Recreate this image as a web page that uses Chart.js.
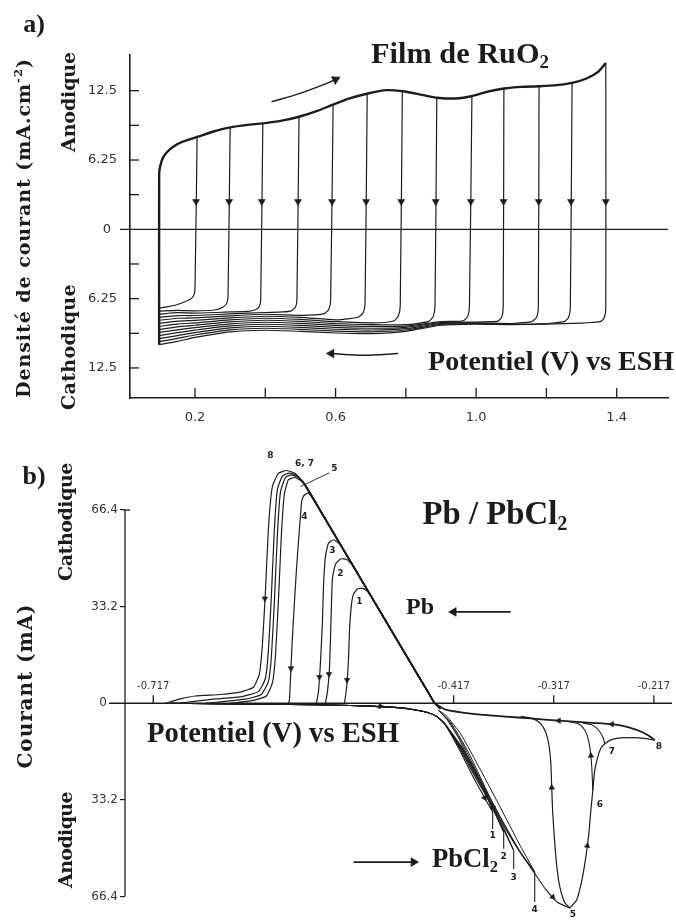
<!DOCTYPE html>
<html>
<head>
<meta charset="utf-8">
<script src="https://cdn.jsdelivr.net/npm/chart.js@4.4.0/dist/chart.umd.min.js"></script>
<style>
html, body { margin: 0; padding: 0; background: #fff; }
#wrap { position: relative; width: 676px; height: 920px; overflow: hidden; }
canvas { position: absolute; left: 0; }
#chart-a { top: 0; }
#chart-b { top: 430px; }
</style>
</head>
<body>
<div id="wrap">
  <canvas id="chart-a" width="676" height="430"></canvas>
  <canvas id="chart-b" width="676" height="490"></canvas>
</div>
<script>
/************************************************************/
/*        a) RuO2 film  -  b) Pb / PbCl2 voltammograms      */
/************************************************************/

const INK = '#1c1c1c';
const SERIF_T = '"Liberation Serif", "Times New Roman", serif';
const SERIF_W = '"DejaVu Serif", serif';
const TICK_FONT = '"DejaVu Sans", sans-serif';

/* ---------- panel a : data (V vs ESH, mA.cm-2) ---------- */
const xTicksA = [0.2, 0.4, 0.6, 0.8, 1.0, 1.2, 1.4];
const xLabelsA = [0.2, 0.6, 1.0, 1.4];
const yTicksA = [-12.5, -9.375, -6.25, -3.125, 3.125, 6.25, 9.375, 12.5];
const yLabelsA = [-12.5, -6.25, 6.25, 12.5];

// anodic sweep (outer envelope), starting at the bottom of the 0.1 V edge
const anodicSweepA = [
    [0.098, -10.4], [0.098, 5.0], [0.101, 5.7], [0.108, 6.4], [0.12, 6.95], [0.138, 7.45],
    [0.165, 7.9], [0.208, 8.35], [0.25, 8.8], [0.30, 9.2], [0.35, 9.42], [0.393, 9.55],
    [0.447, 9.8], [0.496, 10.15], [0.55, 10.7], [0.593, 11.25], [0.64, 11.8], [0.692, 12.25],
    [0.745, 12.55], [0.792, 12.45], [0.85, 12.1], [0.888, 11.87], [0.944, 11.8], [0.987, 12.0],
    [1.03, 12.4], [1.079, 12.7], [1.13, 12.85], [1.18, 12.9], [1.23, 13.0], [1.273, 13.2],
    [1.314, 13.6], [1.347, 14.2], [1.369, 15.0]
];

// reversal potentials (where the down arrows sit)
const reversalA = [0.203, 0.297, 0.39, 0.493, 0.59, 0.687, 0.787, 0.885, 0.985, 1.078, 1.178, 1.27, 1.369];
const reversalArrowLevelA = [2.5, 2.5, 2.5, 2.5, 2.5, 2.5, 2.5, 2.5, 2.5, 2.5, 2.5, 2.5, 2.5];

// cathodic return of each cycle: drop from the envelope, then back to 0.1 V
const cathodicBranchesA = [
    [[0.206, 8.35], [0.200, -5.3], [0.197, -5.9], [0.189, -6.25], [0.17, -6.55], [0.148, -6.8], [0.12, -7.0], [0.098, -7.1]],
    [[0.300, 9.2], [0.294, -6.0], [0.290, -6.7], [0.280, -7.0], [0.26, -7.25], [0.2, -7.35], [0.15, -7.3], [0.098, -7.38]],
    [[0.393, 9.55], [0.387, -6.3], [0.383, -6.95], [0.372, -7.25], [0.35, -7.4], [0.3, -7.45], [0.2, -7.55], [0.15, -7.52], [0.098, -7.65]],
    [[0.496, 10.15], [0.490, -6.3], [0.486, -7.0], [0.474, -7.35], [0.45, -7.45], [0.4, -7.5], [0.3, -7.63], [0.2, -7.77], [0.15, -7.78], [0.098, -7.93]],
    [[0.593, 11.25], [0.586, -6.4], [0.581, -7.2], [0.568, -7.6], [0.54, -7.72], [0.5, -7.76], [0.4, -7.66], [0.3, -7.81], [0.2, -7.99], [0.15, -8.02], [0.098, -8.2]],
    [[0.690, 12.25], [0.684, -6.6], [0.679, -7.5], [0.665, -7.9], [0.64, -8.05], [0.6, -8.16], [0.5, -7.94], [0.4, -7.84], [0.3, -7.99], [0.2, -8.21], [0.15, -8.28], [0.098, -8.48]],
    [[0.790, 12.45], [0.784, -6.9], [0.779, -7.8], [0.766, -8.25], [0.74, -8.4], [0.7, -8.44], [0.6, -8.33], [0.5, -8.12], [0.4, -8.02], [0.3, -8.17], [0.2, -8.43], [0.15, -8.54], [0.098, -8.75]],
    [[0.888, 11.87], [0.883, -6.9], [0.878, -7.85], [0.865, -8.3], [0.84, -8.45], [0.8, -8.6], [0.7, -8.6], [0.6, -8.5], [0.5, -8.3], [0.4, -8.2], [0.3, -8.35], [0.2, -8.65], [0.15, -8.8], [0.098, -9.03]],
    [[0.988, 12.0], [0.981, -6.9], [0.976, -7.85], [0.963, -8.25], [0.94, -8.3], [0.9, -8.33], [0.8, -8.72], [0.7, -8.76], [0.6, -8.67], [0.5, -8.48], [0.4, -8.38], [0.3, -8.53], [0.2, -8.87], [0.15, -9.06], [0.098, -9.3]],
    [[1.079, 12.7], [1.077, -7.0], [1.073, -7.9], [1.062, -8.28], [1.04, -8.33], [1.0, -8.37], [0.9, -8.41], [0.8, -8.84], [0.7, -8.92], [0.6, -8.84], [0.5, -8.66], [0.4, -8.56], [0.3, -8.71], [0.2, -9.09], [0.15, -9.32], [0.098, -9.58]],
    [[1.179, 12.9], [1.177, -7.1], [1.172, -7.95], [1.158, -8.32], [1.13, -8.42], [1.1, -8.5], [1.0, -8.43], [0.9, -8.49], [0.8, -8.96], [0.7, -9.08], [0.6, -9.01], [0.5, -8.84], [0.4, -8.74], [0.3, -8.89], [0.2, -9.31], [0.15, -9.58], [0.098, -9.85]],
    [[1.273, 13.2], [1.268, -7.1], [1.263, -7.95], [1.252, -8.3], [1.23, -8.4], [1.2, -8.5], [1.1, -8.55], [1.0, -8.49], [0.9, -8.57], [0.8, -9.08], [0.7, -9.24], [0.6, -9.18], [0.5, -9.02], [0.4, -8.92], [0.3, -9.07], [0.2, -9.53], [0.15, -9.84], [0.098, -10.13]],
    [[1.369, 15.0], [1.369, -7.1], [1.365, -7.95], [1.355, -8.3], [1.33, -8.4], [1.3, -8.45], [1.2, -8.55], [1.1, -8.6], [1.0, -8.55], [0.9, -8.65], [0.8, -9.2], [0.7, -9.4], [0.6, -9.35], [0.5, -9.2], [0.4, -9.1], [0.3, -9.25], [0.2, -9.75], [0.15, -10.1], [0.098, -10.4]]
];

// sweep direction arrows drawn in the plot
const scanArrowA = [[0.418, 11.5], [0.499, 12.26], [0.575, 13.16], [0.600, 13.52]];
const returnArrowA = [[0.778, -11.2], [0.68, -11.35], [0.588, -11.2]];

/* ---------- panel b : data (V vs ESH, mA) ---------- */
const xTicksB = [-0.717, -0.417, -0.317, -0.217];
const yLabelsB = [-66.4, -33.2, 33.2, 66.4];

// shared start of every cathodic scan: the ohmic ramp
const rampB = [[-0.436, 0], [-0.47, 19.7], [-0.50, 37.1]];
const cathodicPeaksB = [
    [[-0.503, 38.5], [-0.508, 39.5], [-0.513, 39.3], [-0.517, 37.5], [-0.519, 34], [-0.521, 25], [-0.522, 15], [-0.524, 5], [-0.526, 0]],
    [[-0.518, 47.5], [-0.524, 49.5], [-0.530, 49.6], [-0.535, 47.8], [-0.538, 43], [-0.539, 34], [-0.540, 22], [-0.541, 12], [-0.543, 4], [-0.545, 0]],
    [[-0.524, 51.0], [-0.531, 54.8], [-0.537, 56.2], [-0.542, 55], [-0.545, 50.5], [-0.547, 40], [-0.548, 28], [-0.550, 14], [-0.552, 4], [-0.554, 0]],
    [[-0.540, 60.3], [-0.552, 67.3], [-0.558, 71], [-0.563, 72.2], [-0.567, 71.2], [-0.569, 68.7], [-0.574, 45.8], [-0.578, 22.8], [-0.580, 8], [-0.581, 1], [-0.582, 0]],
    [[-0.540, 60.3], [-0.563, 73.7], [-0.570, 76.6], [-0.576, 77.6], [-0.582, 76.8], [-0.586, 72], [-0.589, 58], [-0.592, 35], [-0.595, 16], [-0.598, 7], [-0.604, 2.5], [-0.618, 0.9], [-0.64, 0]],
    [[-0.540, 60.3], [-0.565, 74.8], [-0.572, 77.6], [-0.579, 78.5], [-0.585, 77.6], [-0.590, 72.5], [-0.593, 58], [-0.596, 35], [-0.599, 16], [-0.602, 7.5], [-0.609, 3], [-0.625, 1.4], [-0.65, 0.5], [-0.665, 0]],
    [[-0.540, 60.3], [-0.566, 75.4], [-0.574, 78.3], [-0.581, 79.1], [-0.588, 78.1], [-0.593, 73.5], [-0.596, 60], [-0.599, 37], [-0.602, 18], [-0.605, 8.5], [-0.612, 4], [-0.63, 2.2], [-0.655, 1.5], [-0.68, 0.5], [-0.69, 0]],
    [[-0.540, 60.3], [-0.567, 76], [-0.576, 79.1], [-0.584, 80.0], [-0.592, 79.0], [-0.598, 74.5], [-0.602, 60], [-0.605, 38], [-0.608, 20], [-0.611, 10], [-0.617, 5.5], [-0.63, 3.8], [-0.65, 3.0], [-0.675, 2.5], [-0.69, 1.5], [-0.70, 0.5], [-0.705, 0]]
];

// anodic scans: along the axis from the left, then down the ramp to each reversal
const anodicStartB = [[-0.70, 0], [-0.62, -0.3], [-0.54, -0.6], [-0.50, -1.0], [-0.47, -1.6], [-0.455, -2.3], [-0.443, -3.2], [-0.434, -4.5], [-0.426, -7]];
const anodicLegsB = [
    [[-0.412, -15.5], [-0.398, -25], [-0.386, -32.5], [-0.378, -37.4]],
    [[-0.411, -15.5], [-0.396, -25], [-0.381, -34], [-0.367, -44.3]],
    [[-0.410, -15.5], [-0.394, -25.5], [-0.376, -37], [-0.357, -50.6]],
    [[-0.409, -15.5], [-0.392, -26], [-0.372, -39], [-0.352, -50.5], [-0.336, -58]],
    [[-0.408, -15.5], [-0.390, -26.5], [-0.369, -40], [-0.349, -52], [-0.336, -58.5], [-0.325, -64], [-0.313, -68.5], [-0.301, -70.4]]
];
// returns of cycles 1-4 back to the crossing point
const rampReturnsB = [
    [[-0.378, -37.4], [-0.385, -31], [-0.398, -22], [-0.412, -12], [-0.424, -5.5], [-0.432, -2.5]],
    [[-0.367, -44.3], [-0.378, -35.5], [-0.392, -25], [-0.408, -14], [-0.422, -6], [-0.432, -2.5]],
    [[-0.357, -50.6], [-0.368, -42], [-0.384, -30], [-0.402, -17], [-0.42, -6.5], [-0.432, -2.5]],
    [[-0.336, -58], [-0.352, -48], [-0.370, -36], [-0.39, -23], [-0.41, -10.5], [-0.425, -4], [-0.432, -2.5]]
];
// anodic peak: cycle 5 return (left side) and passivation branch to 6, 7, 8
const cycle5ReturnB = [[-0.301, -70.4], [-0.306, -68.5], [-0.311, -63], [-0.314, -56], [-0.316, -48], [-0.318, -38], [-0.319, -29], [-0.320, -20], [-0.322, -14], [-0.325, -10], [-0.330, -7], [-0.338, -5.3], [-0.350, -4.5]];
const passivationB = [[-0.301, -70.4], [-0.294, -67.5], [-0.289, -61], [-0.285, -53], [-0.282, -45], [-0.280, -37], [-0.278, -30], [-0.276, -23], [-0.273, -18.5], [-0.270, -15.5], [-0.266, -13.9], [-0.260, -12.6], [-0.250, -11.9], [-0.238, -11.8], [-0.226, -12.1], [-0.216, -12.7]];
const cycle6ReturnB = [[-0.278, -30], [-0.279, -22], [-0.281, -15], [-0.284, -10.6], [-0.288, -8.3], [-0.293, -7.0], [-0.302, -6.3]];
const cycle7ReturnB = [[-0.266, -13.9], [-0.268, -11.6], [-0.271, -9.8], [-0.275, -8.3], [-0.280, -7.3], [-0.288, -6.8]];
const cycle8ReturnB = [[-0.216, -12.7], [-0.222, -11.2], [-0.229, -9.9], [-0.238, -8.7], [-0.248, -7.8], [-0.259, -7.2], [-0.275, -6.8], [-0.29, -6.5], [-0.312, -6.0], [-0.34, -5.2], [-0.365, -4.6], [-0.39, -3.9], [-0.408, -3.2], [-0.425, -2.2], [-0.436, 0]];

// reversal stubs of cycles 1-4
const stubXB = [-0.378, -0.367, -0.357, -0.336];
const stubTopB = [-37.4, -44.3, -50.6, -58];
const stubBottomB = [-43.2, -50, -57, -68.3];

// cycle numbers
const cycleLabelsB = ['8', '6, 7', '5', '4', '3', '2', '1', '1', '2', '3', '4', '5', '6', '7', '8'];
const cycleLabelXB = [-0.600, -0.566, -0.536, -0.566, -0.538, -0.530, -0.511, -0.378, -0.367, -0.357, -0.336, -0.298, -0.271, -0.259, -0.212];
const cycleLabelYB = [85, 82.5, 80.5, 64.1, 52.3, 44.6, 34.8, -45.6, -52.8, -59.9, -70.8, -72.6, -34.7, -16.8, -15];
const leader5B = [[-0.570, 74.5], [-0.541, 79.2]];

// arrows on the curves
const arrowXB = [-0.5234, -0.5415, -0.551, -0.5794, -0.6055, -0.49, -0.386, -0.378, -0.319, -0.2835, -0.318, -0.2799, -0.259, -0.312];
const arrowYB = [8, 10, 9, 12, 36, -1.0, -32.5, -35.5, -29, -49, -66.6, -18, -7.2, -6.0];
const arrowRotB = [180, 180, 180, 180, 180, 90, 152, 332, 357, 8, 137, 355, 270, 270];

// "Pb <-" and "-> PbCl2" pointers
const pbArrowB = [[-0.360, 31.4], [-0.417, 31.4]];
const pbcl2ArrowB = [[-0.517, -54.6], [-0.457, -54.6]];

/* ---------- helpers ---------- */
function lineDs(points, width, tension) {
    return {
        data: points.map(p => ({x: p[0], y: p[1]})),
        showLine: true,
        borderColor: INK,
        borderWidth: width,
        pointRadius: 0,
        tension: tension || 0,
        fill: false
    };
}

function headDs(points, rotations, radius) {
    return {
        data: points.map(p => ({x: p[0], y: p[1]})),
        showLine: false,
        pointStyle: 'triangle',
        pointRadius: radius,
        pointRotation: c => rotations[c.dataIndex],
        backgroundColor: INK,
        borderColor: INK,
        borderWidth: 0.6
    };
}

function strokeLine(ctx, x1, y1, x2, y2) {
    ctx.beginPath();
    ctx.moveTo(x1, y1);
    ctx.lineTo(x2, y2);
    ctx.stroke();
}

/* Draw a label made of parts [text, 'sub'|'sup'?], fitted to a width */
function drawLabel(ctx, spec) {
    const weight = spec.weight || 'bold';
    const fontOf = (p, size) => `${weight} ${p[1] ? size * 0.62 : size}px ${spec.family}`;
    ctx.letterSpacing = '0px';
    const measure = size => spec.parts.reduce((w, p) => {
        ctx.font = fontOf(p, size);
        return w + ctx.measureText(p[0]).width;
    }, 0);
    const chars = spec.parts.reduce((n, p) => n + p[0].length, 0);
    let size = spec.size || 20;
    let spacing = 0;
    if (spec.w && !spec.size) size = 20 * spec.w / measure(20);
    else if (spec.w) spacing = (spec.w - measure(size)) / chars;
    const total = measure(size) + spacing * chars;

    ctx.save();
    ctx.translate(spec.x, spec.y);
    if (spec.rot) ctx.rotate(-Math.PI / 2);
    ctx.fillStyle = INK;
    ctx.textAlign = 'left';
    ctx.textBaseline = 'middle';
    let x = -total / 2;
    spec.parts.forEach(p => {
        ctx.font = fontOf(p, size);
        const adv = ctx.measureText(p[0]).width + spacing * p[0].length;
        const dy = p[1] === 'sub' ? size * 0.28 : p[1] === 'sup' ? -size * 0.34 : 0;
        ctx.letterSpacing = spacing + 'px';
        ctx.fillText(p[0], x, dy);
        ctx.letterSpacing = '0px';
        x += adv;
    });
    ctx.restore();
}

/* Labels placed on the page (canvas pixels) */
const pageLabelsA = [
    {parts: [['a)']], x: 34, y: 25, size: 26, family: SERIF_T},
    {parts: [['Film de RuO'], ['2', 'sub']], x: 460, y: 55, w: 178, family: SERIF_T},
    {parts: [['Potentiel (V) vs ESH']], x: 551, y: 363, w: 246, family: SERIF_T},
    {parts: [['Densité de courant (mA.cm'], ['-2', 'sup'], [')']], x: 25, y: 228, size: 19, w: 340, family: SERIF_W, rot: true},
    {parts: [['Anodique']], x: 70, y: 102, size: 19, w: 100, family: SERIF_W, rot: true},
    {parts: [['Cathodique']], x: 70, y: 347, size: 19, w: 126, family: SERIF_W, rot: true}
];
const pageLabelsB = [
    {parts: [['b)']], x: 34, y: 47, size: 26, family: SERIF_T},
    {parts: [['Cathodique']], x: 67, y: 92, size: 19, w: 118, family: SERIF_W, rot: true},
    {parts: [['Courant (mA)']], x: 27, y: 256, size: 20, w: 165, family: SERIF_W, rot: true},
    {parts: [['Anodique']], x: 67, y: 410, size: 19, w: 96, family: SERIF_W, rot: true},
    {parts: [['Pb / PbCl'], ['2', 'sub']], x: 495, y: 86, w: 145, family: SERIF_T},
    {parts: [['Pb']], x: 420, y: 178, w: 28, family: SERIF_T},
    {parts: [['Potentiel (V) vs ESH']], x: 273, y: 305, w: 252, family: SERIF_T},
    {parts: [['PbCl'], ['2', 'sub']], x: 465, y: 430, w: 66, family: SERIF_T}
];

const baseOptions = {
    responsive: false,
    devicePixelRatio: 1,
    animation: false,
    events: [],
    plugins: {legend: {display: false}, tooltip: {enabled: false}}
};

// fix the axis box and drop the label overhang padding Chart.js adds
function fixWidth(w) {
    return s => { s.width = w; s.paddingTop = 0; s.paddingBottom = 0; };
}

/* ---------- panel a ---------- */
function initChartA() {
    const datasets = [lineDs(anodicSweepA, 2.4, 0.2)];
    cathodicBranchesA.forEach(b => datasets.push(lineDs(b, 1.2, 0.2)));
    datasets.push(lineDs(scanArrowA, 1.5, 0.3));
    datasets.push(lineDs(returnArrowA, 1.5, 0.3));
    datasets.push(headDs(reversalA.map((e, i) => [e, reversalArrowLevelA[i]]), reversalA.map(() => 180), 4));
    datasets.push(headDs([scanArrowA[scanArrowA.length - 1], returnArrowA[returnArrowA.length - 1]], [63, 270], 5));

    const decor = {
        id: 'decorA',
        beforeDatasetsDraw(chart) {
            const {ctx, chartArea, scales: {x, y}} = chart;
            ctx.save();
            ctx.strokeStyle = INK;
            ctx.lineWidth = 1.3;
            const y0 = y.getPixelForValue(0);
            strokeLine(ctx, chartArea.left - 10, y0, chartArea.right, y0);
            yTicksA.forEach(v => {
                const py = y.getPixelForValue(v);
                strokeLine(ctx, chartArea.left, py, chartArea.left + 9, py);
            });
            xTicksA.forEach(v => {
                const px = x.getPixelForValue(v);
                strokeLine(ctx, px, chartArea.bottom, px, chartArea.bottom - 10);
            });
            ctx.fillStyle = '#333';
            ctx.font = `13px ${TICK_FONT}`;
            ctx.textAlign = 'right';
            ctx.textBaseline = 'middle';
            ctx.fillText('0', chartArea.left - 19, y0);
            ctx.restore();
        },
        afterDraw(chart) {
            pageLabelsA.forEach(s => drawLabel(chart.ctx, s));
        }
    };

    return new Chart(document.getElementById('chart-a'), {
        type: 'scatter',
        data: {datasets: datasets},
        options: Object.assign({}, baseOptions, {
            layout: {autoPadding: false, padding: {left: 0, right: 8, top: 55, bottom: 0}},
            scales: {
                x: {
                    type: 'linear', min: 0.015, max: 1.546,
                    afterBuildTicks: s => { s.ticks = xLabelsA.map(v => ({value: v})); },
                    afterFit: s => { s.height = 32; s.paddingLeft = 0; s.paddingRight = 0; },
                    grid: {display: false},
                    border: {display: true, color: INK, width: 1.6},
                    ticks: {
                        callback: v => v.toFixed(1),
                        font: {family: TICK_FONT, size: 13}, color: '#333',
                        padding: 4, maxRotation: 0, autoSkip: false
                    }
                },
                y: {
                    type: 'linear', min: -15.21, max: 15.72,
                    afterBuildTicks: s => { s.ticks = yLabelsA.map(v => ({value: v})); },
                    afterFit: fixWidth(130),
                    grid: {display: false},
                    border: {display: true, color: INK, width: 1.6},
                    ticks: {
                        callback: v => String(Math.abs(v)),
                        font: {family: TICK_FONT, size: 13}, color: '#333', padding: 5
                    }
                }
            }
        }),
        plugins: [decor]
    });
}

/* ---------- panel b ---------- */
function initChartB() {
    const datasets = [];
    cathodicPeaksB.forEach(p => datasets.push(lineDs(rampB.concat(p), 1.2, 0.15)));
    datasets.push(lineDs([[-0.430, -2.0], [-0.436, 0], [-0.50, 37.1], [-0.565, 74.8]], 2.0, 0));
    anodicLegsB.forEach(l => datasets.push(lineDs(anodicStartB.concat(l), 1.1, 0.15)));
    rampReturnsB.forEach(r => datasets.push(lineDs(r, 1.0, 0.15)));
    datasets.push(lineDs(cycle5ReturnB, 1.2, 0.2));
    datasets.push(lineDs(passivationB, 1.2, 0.2));
    datasets.push(lineDs(cycle6ReturnB, 1.1, 0.2));
    datasets.push(lineDs(cycle7ReturnB, 1.1, 0.2));
    datasets.push(lineDs(cycle8ReturnB, 1.8, 0.2));
    stubXB.forEach((x, i) => datasets.push(lineDs([[x, stubTopB[i]], [x, stubBottomB[i]]], 1.1, 0)));
    datasets.push(lineDs(leader5B, 0.9, 0));
    datasets.push(lineDs(pbArrowB, 1.6, 0));
    datasets.push(lineDs(pbcl2ArrowB, 1.6, 0));
    datasets.push(headDs(arrowXB.map((x, i) => [x, arrowYB[i]]), arrowRotB, 3.2));
    datasets.push(headDs([pbArrowB[1], pbcl2ArrowB[1]], [270, 90], 5));

    const decor = {
        id: 'decorB',
        beforeDatasetsDraw(chart) {
            const {ctx, chartArea, scales: {x, y}} = chart;
            ctx.save();
            ctx.strokeStyle = INK;
            ctx.lineWidth = 1.3;
            const y0 = y.getPixelForValue(0);
            strokeLine(ctx, chartArea.left, y.getPixelForValue(66.4), chartArea.left, y.getPixelForValue(-66.4));
            strokeLine(ctx, chartArea.left, y.getPixelForValue(66.4), chartArea.left + 5, y.getPixelForValue(66.4));
            strokeLine(ctx, chartArea.left - 16, y0, chartArea.right, y0);
            ctx.fillStyle = '#333';
            ctx.font = `10px ${TICK_FONT}`;
            ctx.textAlign = 'center';
            ctx.textBaseline = 'middle';
            xTicksB.forEach(v => {
                const px = x.getPixelForValue(v);
                strokeLine(ctx, px, y0, px, y0 - 8);
                ctx.fillText(v.toFixed(3), px, y0 - 17);
            });
            ctx.font = `12px ${TICK_FONT}`;
            ctx.textAlign = 'right';
            ctx.fillText('0', chartArea.left - 18, y0);
            ctx.restore();
        },
        afterDatasetsDraw(chart) {
            const {ctx, scales: {x, y}} = chart;
            ctx.save();
            ctx.fillStyle = INK;
            ctx.font = `bold 9px ${TICK_FONT}`;
            ctx.textAlign = 'center';
            ctx.textBaseline = 'middle';
            cycleLabelsB.forEach((t, i) => {
                ctx.fillText(t, x.getPixelForValue(cycleLabelXB[i]), y.getPixelForValue(cycleLabelYB[i]));
            });
            ctx.restore();
        },
        afterDraw(chart) {
            pageLabelsB.forEach(s => drawLabel(chart.ctx, s));
        }
    };

    return new Chart(document.getElementById('chart-b'), {
        type: 'scatter',
        data: {datasets: datasets},
        options: Object.assign({}, baseOptions, {
            layout: {autoPadding: false, padding: {left: 0, right: 4, top: 11.4, bottom: 0}},
            scales: {
                x: {type: 'linear', display: false, min: -0.7452, max: -0.1989},
                y: {
                    type: 'linear', min: -74.5, max: 90,
                    afterBuildTicks: s => { s.ticks = yLabelsB.map(v => ({value: v})); },
                    afterFit: fixWidth(125),
                    grid: {drawOnChartArea: false, drawTicks: true, tickLength: 5, color: INK, lineWidth: 1.2},
                    border: {display: false},
                    ticks: {
                        callback: v => Math.abs(v).toFixed(1),
                        font: {family: TICK_FONT, size: 12}, color: '#333', padding: 2
                    }
                }
            }
        }),
        plugins: [decor]
    });
}

var chartA = initChartA();
var chartB = initChartB();
</script>
</body>
</html>
